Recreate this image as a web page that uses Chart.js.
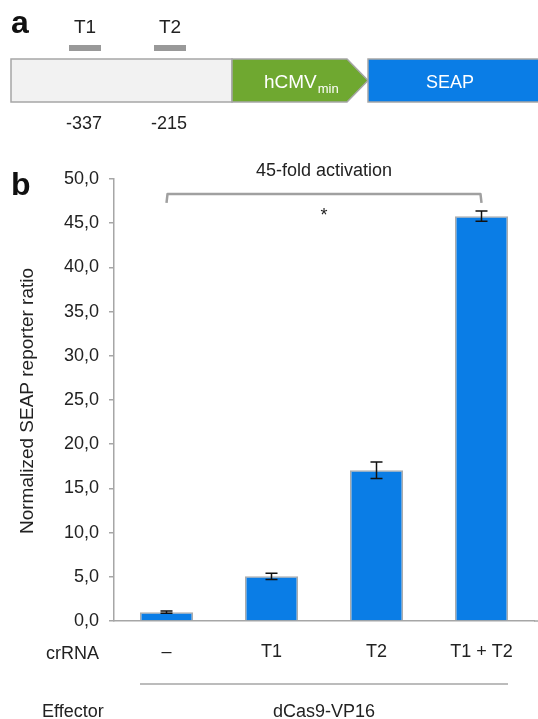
<!DOCTYPE html>
<html>
<head>
<meta charset="utf-8">
<script src="https://cdn.jsdelivr.net/npm/chart.js@4"></script>
<style>
  html, body { margin: 0; padding: 0; background: #fff; }
  canvas { display: block; }
</style>
</head>
<body>
<canvas id="chart" width="538" height="719"></canvas>
<script>
// data
const crRNA = ["–", "T1", "T2", "T1 + T2"];
const reporterRatio = [1.0, 5.05, 17.05, 45.8];
const reporterError = [0.13, 0.36, 0.94, 0.57];
const effector = "dCas9-VP16";
const foldLabel = "45-fold activation";

// panel a: crRNA target sites on the promoter
const targetNames = ["T1", "T2"];
const targetPositions = ["-337", "-215"];

const FONT = "'Liberation Sans', Arial, sans-serif";
const TEXT = "#222";
const GREY = "#a6a6a6";
const BLUE = "#0a7de6";

function comma(v) {
    return v.toFixed(1).replace(".", ",");
}

// schematic, panel letters and the extra axis texts
const schematic = {
    id: "schematic",
    beforeDraw(chart) {
        const ctx = chart.ctx;
        ctx.save();

        // promoter box
        ctx.lineWidth = 1.5;
        ctx.strokeStyle = GREY;
        ctx.fillStyle = "#f2f2f2";
        ctx.fillRect(11, 59, 221, 43);
        ctx.strokeRect(11, 59, 221, 43);

        // hCMVmin arrow
        ctx.beginPath();
        ctx.moveTo(232, 59);
        ctx.lineTo(347, 59);
        ctx.lineTo(368, 80.5);
        ctx.lineTo(347, 102);
        ctx.lineTo(232, 102);
        ctx.closePath();
        ctx.fillStyle = "#6fa830";
        ctx.fill();
        ctx.stroke();

        // SEAP box
        ctx.fillStyle = BLUE;
        ctx.fillRect(368, 59, 172, 43);
        ctx.strokeRect(368, 59, 172, 43);

        // target bars + labels
        const tx = [85, 170];
        ctx.fillStyle = "#999";
        tx.forEach(x => ctx.fillRect(x - 16, 45, 32, 6));
        ctx.fillStyle = TEXT;
        ctx.font = "19px " + FONT;
        ctx.textAlign = "center";
        ctx.textBaseline = "alphabetic";
        targetNames.forEach((t, i) => ctx.fillText(t, tx[i], 33));
        ctx.font = "18px " + FONT;
        targetPositions.forEach((t, i) => ctx.fillText(t, tx[i] - 1, 129));

        // labels in the boxes
        ctx.fillStyle = "#fff";
        ctx.textAlign = "left";
        ctx.font = "19px " + FONT;
        ctx.fillText("hCMV", 264, 88);
        const w = ctx.measureText("hCMV").width;
        ctx.font = "13px " + FONT;
        ctx.fillText("min", 264 + w + 1, 93);
        ctx.textAlign = "center";
        ctx.font = "18px " + FONT;
        ctx.fillText("SEAP", 450, 88);

        // panel letters
        ctx.fillStyle = "#111";
        ctx.textAlign = "left";
        ctx.font = "bold 32px " + FONT;
        ctx.fillText("a", 11, 33);
        ctx.fillText("b", 11, 195);

        // y axis title
        ctx.save();
        ctx.translate(28, 401);
        ctx.rotate(-Math.PI / 2);
        ctx.textAlign = "center";
        ctx.textBaseline = "middle";
        ctx.font = "19px " + FONT;
        ctx.fillStyle = TEXT;
        ctx.fillText("Normalized SEAP reporter ratio", 0, 0);
        ctx.restore();

        ctx.restore();
    },
    afterDraw(chart) {
        const ctx = chart.ctx;
        const area = chart.chartArea;
        const bars = chart.getDatasetMeta(0).data;
        ctx.save();

        // baseline runs on to the edge
        ctx.strokeStyle = GREY;
        ctx.lineWidth = 1.5;
        ctx.beginPath();
        ctx.moveTo(area.right, area.bottom);
        ctx.lineTo(chart.width, area.bottom);
        ctx.stroke();

        ctx.fillStyle = TEXT;
        ctx.font = "18px " + FONT;
        ctx.textAlign = "right";
        ctx.fillText("crRNA", 99, 659);

        // effector line under all bars
        const left = bars[0].x - bars[0].width / 2;
        const right = bars[bars.length - 1].x + bars[bars.length - 1].width / 2;
        ctx.beginPath();
        ctx.moveTo(left, 684);
        ctx.lineTo(right, 684);
        ctx.stroke();

        ctx.textAlign = "left";
        ctx.fillText("Effector", 42, 717);
        ctx.textAlign = "center";
        ctx.fillText(effector, (left + right) / 2, 717);
        ctx.restore();
    }
};

// error bars and the significance bracket
const annotations = {
    id: "annotations",
    afterDatasetsDraw(chart) {
        const ctx = chart.ctx;
        const x = chart.scales.x;
        const y = chart.scales.y;
        ctx.save();

        ctx.strokeStyle = "#111";
        ctx.lineWidth = 1.5;
        reporterRatio.forEach((v, i) => {
            const px = x.getPixelForValue(i);
            const top = y.getPixelForValue(v + reporterError[i]);
            const bot = y.getPixelForValue(v - reporterError[i]);
            ctx.beginPath();
            ctx.moveTo(px, top);
            ctx.lineTo(px, bot);
            ctx.moveTo(px - 6, top);
            ctx.lineTo(px + 6, top);
            ctx.moveTo(px - 6, bot);
            ctx.lineTo(px + 6, bot);
            ctx.stroke();
        });

        const x0 = x.getPixelForValue(0);
        const x1 = x.getPixelForValue(crRNA.length - 1);
        const yb = y.getPixelForValue(48.3);
        const ye = y.getPixelForValue(47.3);
        ctx.strokeStyle = "#a0a0a0";
        ctx.lineWidth = 2.5;
        ctx.lineJoin = "round";
        ctx.beginPath();
        ctx.moveTo(x0, ye);
        ctx.lineTo(x0 + 1, yb);
        ctx.lineTo(x1 - 1, yb);
        ctx.lineTo(x1, ye);
        ctx.stroke();

        ctx.fillStyle = TEXT;
        ctx.textAlign = "center";
        ctx.font = "18px " + FONT;
        ctx.fillText(foldLabel, (x0 + x1) / 2, 176);
        ctx.fillText("*", (x0 + x1) / 2, 221);
        ctx.restore();
    }
};

new Chart(document.getElementById("chart"), {
    type: "bar",
    data: {
        labels: crRNA,
        datasets: [{
            data: reporterRatio,
            backgroundColor: BLUE,
            borderColor: "#ababab",
            borderWidth: 1.5,
            barPercentage: 0.505,
            categoryPercentage: 1
        }]
    },
    options: {
        responsive: false,
        animation: false,
        layout: { padding: { left: 0, top: 179, right: 4, bottom: 0 } },
        plugins: { legend: { display: false }, tooltip: { enabled: false } },
        scales: {
            x: {
                afterFit: s => { s.height = 98; },
                grid: { display: false, drawTicks: false },
                border: { color: GREY, width: 1.5 },
                ticks: { color: TEXT, font: { family: FONT, size: 18 }, padding: 20 }
            },
            y: {
                min: 0,
                max: 50,
                afterFit: s => { s.width = 114; },
                grid: { drawOnChartArea: false, tickLength: 5, color: GREY, lineWidth: 1.5 },
                border: { color: GREY, width: 1.5 },
                ticks: {
                    stepSize: 5,
                    padding: 10,
                    color: TEXT,
                    font: { family: FONT, size: 18 },
                    callback: v => comma(v)
                }
            }
        }
    },
    plugins: [schematic, annotations]
});
</script>
</body>
</html>
